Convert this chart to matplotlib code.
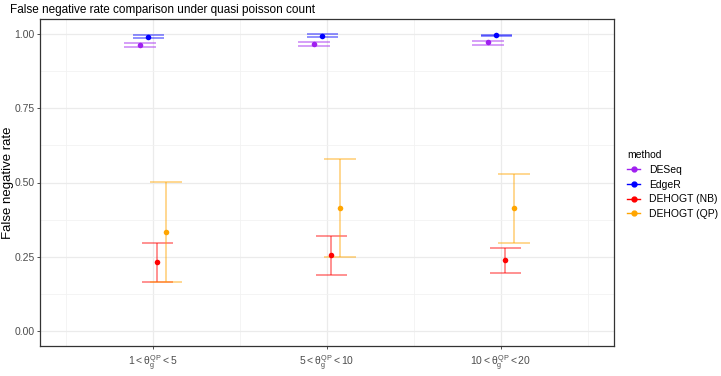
import matplotlib
matplotlib.use("Agg")
import matplotlib.pyplot as plt
import numpy as np
from matplotlib.lines import Line2D

# data
categories = [r"$1<\theta_g^{QP}<5$", r"$5<\theta_g^{QP}<10$", r"$10<\theta_g^{QP}<20$"]
methods = ["DESeq", "EdgeR", "DEHOGT (NB)", "DEHOGT (QP)"]
colors = ["#A020F0", "#0000FF", "#FF0000", "#FFA500"]

deseq_mean = [0.964, 0.966, 0.971]
deseq_lo = [0.955, 0.959, 0.962]
deseq_hi = [0.970, 0.972, 0.976]

edger_mean = [0.991, 0.993, 0.995]
edger_lo = [0.986, 0.988, 0.994]
edger_hi = [0.997, 0.998, 0.997]

nb_mean = [0.233, 0.257, 0.240]
nb_lo = [0.166, 0.190, 0.196]
nb_hi = [0.297, 0.321, 0.279]

qp_mean = [0.334, 0.415, 0.415]
qp_lo = [0.166, 0.249, 0.297]
qp_hi = [0.501, 0.578, 0.530]

means = [deseq_mean, edger_mean, nb_mean, qp_mean]
lows = [deseq_lo, edger_lo, nb_lo, qp_lo]
highs = [deseq_hi, edger_hi, nb_hi, qp_hi]
offsets = [-0.075, -0.027, 0.025, 0.075]

plt.rcParams["font.family"] = ["Liberation Sans", "DejaVu Sans"]
plt.rcParams["mathtext.fontset"] = "custom"
plt.rcParams["mathtext.rm"] = "Liberation Sans"
plt.rcParams["mathtext.it"] = "Liberation Sans"

fig = plt.figure(figsize=(7.21, 3.76), dpi=100)
ax = fig.add_axes([40 / 721, 1 - 346 / 376, 574 / 721, 327 / 376])

x = np.arange(1, len(categories) + 1)
cap = 0.09
for m, c, mu, lo, hi, off in zip(methods, colors, means, lows, highs, offsets):
    xs = x + off
    lo = np.array(lo)
    hi = np.array(hi)
    ax.vlines(xs, lo, hi, color=c, alpha=0.55, lw=1.1, zorder=2)
    ax.hlines(lo, xs - cap, xs + cap, color=c, alpha=0.55, lw=1.1, zorder=2)
    ax.hlines(hi, xs - cap, xs + cap, color=c, alpha=0.55, lw=1.1, zorder=2)
    ax.scatter(xs, mu, color=c, s=16, zorder=3, linewidths=0)

ax.set_xlim(0.35, 3.65)
ax.set_ylim(-0.05, 1.05)
ax.set_xticks(x)
ax.set_xticklabels(categories)
ax.set_yticks([0, 0.25, 0.5, 0.75, 1.0])
ax.set_yticklabels(["0.00", "0.25", "0.50", "0.75", "1.00"])
ax.set_xticks([0.5, 1.5, 2.5, 3.5], minor=True)
ax.set_yticks([0.125, 0.375, 0.625, 0.875], minor=True)
ax.grid(which="major", color="#EBEBEB", lw=0.9, zorder=0)
ax.grid(which="minor", color="#F2F2F2", lw=0.6, zorder=0)
ax.set_axisbelow(True)
ax.tick_params(which="major", colors="#333333", labelcolor="#4D4D4D", labelsize=7.5, length=2.5, width=0.6, pad=1.5)
ax.tick_params(axis="x", which="major", pad=3)
ax.tick_params(which="minor", length=0)
for s in ax.spines.values():
    s.set_color("#333333")
    s.set_linewidth(0.9)

ax.set_ylabel("False negative rate", fontsize=9.5)
ax.yaxis.set_label_coords(-0.045, 0.5)
fig.text(10 / 721, 1 - 10 / 376, "False negative rate comparison under quasi poisson count",
         fontsize=8.5, va="center", ha="left")

handles = [Line2D([0], [0], color=c, marker="o", markersize=3.5, lw=1, alpha=1) for c in colors]
leg = fig.legend(handles, methods, title="method", loc="upper left",
                 bbox_to_anchor=(620 / 721, 1 - 143 / 376), frameon=False,
                 fontsize=7.5, title_fontsize=7.5, handlelength=1.2, handletextpad=0.9,
                 labelspacing=0.45, alignment="left", borderpad=0.2)

fig.savefig("out.png", dpi=100)
